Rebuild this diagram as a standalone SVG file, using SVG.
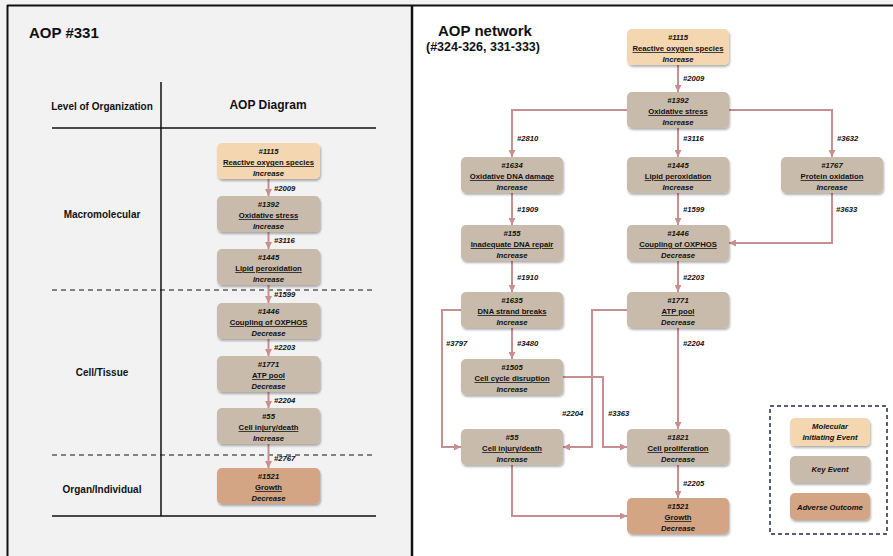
<svg xmlns="http://www.w3.org/2000/svg" width="893" height="556" viewBox="0 0 893 556">
<defs>
<style>
text{font-family:"Liberation Sans",Arial,sans-serif;font-weight:bold;fill:#111}
.n text{font-size:7.7px;text-anchor:middle}
.i{font-style:italic}
.u{text-decoration:underline}
.mie{fill:#f4d6b0}
.ke{fill:#c8bbab}
.ao{fill:#d3a585}
.c path{fill:none;stroke:#c98e90;stroke-width:2;marker-end:url(#ah)}
.lbl text{font-size:7.7px;font-style:italic}
.lvl{font-size:10px;text-anchor:middle}
.frame{stroke:#111;fill:none}
</style>
<marker id="ah" viewBox="0 0 10 10" refX="10" refY="5" markerWidth="3.5" markerHeight="3.5" orient="auto" markerUnits="strokeWidth"><path d="M0,0 L10,5 L0,10 z" fill="#c98e90"/></marker>
<filter id="sh" x="-10%" y="-20%" width="125%" height="150%"><feDropShadow dx="1" dy="2" stdDeviation="1.2" flood-color="#000" flood-opacity="0.3"/></filter>
</defs>
<rect x="0" y="0" width="893" height="556" fill="#f2f2f2"/>
<rect x="413" y="6" width="480" height="550" fill="#ffffff"/>
<g class="frame">
<line x1="7" y1="5.5" x2="893" y2="5.5" stroke-width="2"/>
<line x1="7.5" y1="5" x2="7.5" y2="556" stroke-width="2"/>
<line x1="412" y1="5" x2="412" y2="556" stroke-width="2.5"/>
<line x1="161" y1="82" x2="161" y2="516" stroke-width="1.5"/>
<line x1="52" y1="128" x2="376" y2="128" stroke-width="1.5"/>
<line x1="52" y1="516" x2="376" y2="516" stroke-width="1.5"/>
<line x1="52" y1="290" x2="376" y2="290" stroke-width="1.2" stroke-dasharray="5 4"/>
<line x1="52" y1="455" x2="376" y2="455" stroke-width="1.2" stroke-dasharray="5 4"/>
</g>
<text x="29" y="38" font-size="15">AOP #331</text>
<text x="102" y="110" class="lvl">Level of Organization</text>
<text x="268" y="109" font-size="12" text-anchor="middle">AOP Diagram</text>
<text x="102" y="218" class="lvl">Macromolecular</text>
<text x="102" y="376" class="lvl">Cell/Tissue</text>
<text x="102" y="493" class="lvl">Organ/Individual</text>
<text x="438" y="36" font-size="15">AOP network</text>
<text x="426" y="51" font-size="12.5">(#324-326, 331-333)</text>

<g class="c" id="left-connectors">
<path d="M268.5,179 V196"/>
<path d="M268.5,232 V249"/>
<path d="M268.5,284 V303"/>
<path d="M268.5,339 V356"/>
<path d="M268.5,392 V408"/>
<path d="M268.5,444 V468"/>
</g>
<g class="lbl">
<text x="274" y="191">#2009</text>
<text x="274" y="243">#3116</text>
<text x="274" y="297">#1599</text>
<text x="274" y="350">#2203</text>
<text x="274" y="403">#2204</text>
<text x="274" y="461">#2767</text>
</g>

<g class="n" id="L1115"><rect x="217" y="143" width="103" height="36" rx="5" class="mie" filter="url(#sh)"/><text x="268.5" y="154" class="i">#1115</text><text x="268.5" y="165" class="u">Reactive oxygen species</text><text x="268.5" y="175.5" class="i">Increase</text></g>
<g class="n" id="L1392"><rect x="217" y="196" width="103" height="36" rx="5" class="ke" filter="url(#sh)"/><text x="268.5" y="207" class="i">#1392</text><text x="268.5" y="218" class="u">Oxidative stress</text><text x="268.5" y="228.5" class="i">Increase</text></g>
<g class="n" id="L1445"><rect x="217" y="249" width="103" height="36" rx="5" class="ke" filter="url(#sh)"/><text x="268.5" y="260" class="i">#1445</text><text x="268.5" y="271" class="u">Lipid peroxidation</text><text x="268.5" y="281.5" class="i">Increase</text></g>
<g class="n" id="L1446"><rect x="217" y="303" width="103" height="36" rx="5" class="ke" filter="url(#sh)"/><text x="268.5" y="314" class="i">#1446</text><text x="268.5" y="325" class="u">Coupling of OXPHOS</text><text x="268.5" y="335.5" class="i">Decrease</text></g>
<g class="n" id="L1771"><rect x="217" y="356" width="103" height="36" rx="5" class="ke" filter="url(#sh)"/><text x="268.5" y="367" class="i">#1771</text><text x="268.5" y="378" class="u">ATP pool</text><text x="268.5" y="388.5" class="i">Decrease</text></g>
<g class="n" id="L55"><rect x="217" y="408" width="103" height="36" rx="5" class="ke" filter="url(#sh)"/><text x="268.5" y="419" class="i">#55</text><text x="268.5" y="430" class="u">Cell injury/death</text><text x="268.5" y="440.5" class="i">Increase</text></g>
<g class="n" id="L1521"><rect x="217" y="468" width="103" height="36" rx="5" class="ao" filter="url(#sh)"/><text x="268.5" y="479" class="i">#1521</text><text x="268.5" y="490" class="u">Growth</text><text x="268.5" y="500.5" class="i">Decrease</text></g>

<g class="c" id="right-connectors">
<path d="M678,65 V92"/>
<path d="M627,110 H512 V157"/>
<path d="M678,128 V157"/>
<path d="M729,110 H832 V157"/>
<path d="M512,193 V225"/>
<path d="M678,193 V225"/>
<path d="M832,193 V243 H729"/>
<path d="M512,261 V292"/>
<path d="M678,261 V292"/>
<path d="M512,328 V359"/>
<path d="M461,310 H442 V447 H461"/>
<path d="M627,310 H592 V447 H563"/>
<path d="M563,377 H603 V447 H627"/>
<path d="M678,328 V429"/>
<path d="M678,465 V498"/>
<path d="M512,465 V516 H627"/>
</g>
<g class="lbl">
<text x="683" y="81">#2009</text>
<text x="517" y="141">#2810</text>
<text x="683" y="141">#3116</text>
<text x="837" y="141">#3632</text>
<text x="517" y="212">#1909</text>
<text x="683" y="212">#1599</text>
<text x="836" y="212">#3633</text>
<text x="517" y="280">#1910</text>
<text x="683" y="280">#2203</text>
<text x="446" y="346">#3797</text>
<text x="517" y="346">#3480</text>
<text x="683" y="346">#2204</text>
<text x="562" y="416">#2204</text>
<text x="608" y="416">#3363</text>
<text x="683" y="486">#2205</text>
</g>

<g class="n" id="R1115"><rect x="627" y="29" width="102" height="36" rx="5" class="mie" filter="url(#sh)"/><text x="678" y="40" class="i">#1115</text><text x="678" y="51" class="u">Reactive oxygen species</text><text x="678" y="61.5" class="i">Increase</text></g>
<g class="n" id="R1392"><rect x="627" y="92" width="102" height="36" rx="5" class="ke" filter="url(#sh)"/><text x="678" y="103" class="i">#1392</text><text x="678" y="114" class="u">Oxidative stress</text><text x="678" y="124.5" class="i">Increase</text></g>
<g class="n" id="R1634"><rect x="461" y="157" width="102" height="36" rx="5" class="ke" filter="url(#sh)"/><text x="512" y="168" class="i">#1634</text><text x="512" y="179" class="u">Oxidative DNA damage</text><text x="512" y="189.5" class="i">Increase</text></g>
<g class="n" id="R1445"><rect x="627" y="157" width="102" height="36" rx="5" class="ke" filter="url(#sh)"/><text x="678" y="168" class="i">#1445</text><text x="678" y="179" class="u">Lipid peroxidation</text><text x="678" y="189.5" class="i">Increase</text></g>
<g class="n" id="R1767"><rect x="781" y="157" width="102" height="36" rx="5" class="ke" filter="url(#sh)"/><text x="832" y="168" class="i">#1767</text><text x="832" y="179" class="u">Protein oxidation</text><text x="832" y="189.5" class="i">Increase</text></g>
<g class="n" id="R155"><rect x="461" y="225" width="102" height="36" rx="5" class="ke" filter="url(#sh)"/><text x="512" y="236" class="i">#155</text><text x="512" y="247" class="u">Inadequate DNA repair</text><text x="512" y="257.5" class="i">Increase</text></g>
<g class="n" id="R1446"><rect x="627" y="225" width="102" height="36" rx="5" class="ke" filter="url(#sh)"/><text x="678" y="236" class="i">#1446</text><text x="678" y="247" class="u">Coupling of OXPHOS</text><text x="678" y="257.5" class="i">Decrease</text></g>
<g class="n" id="R1635"><rect x="461" y="292" width="102" height="36" rx="5" class="ke" filter="url(#sh)"/><text x="512" y="303" class="i">#1635</text><text x="512" y="314" class="u">DNA strand breaks</text><text x="512" y="324.5" class="i">Increase</text></g>
<g class="n" id="R1771"><rect x="627" y="292" width="102" height="36" rx="5" class="ke" filter="url(#sh)"/><text x="678" y="303" class="i">#1771</text><text x="678" y="314" class="u">ATP pool</text><text x="678" y="324.5" class="i">Decrease</text></g>
<g class="n" id="R1505"><rect x="461" y="359" width="102" height="36" rx="5" class="ke" filter="url(#sh)"/><text x="512" y="370" class="i">#1505</text><text x="512" y="381" class="u">Cell cycle disruption</text><text x="512" y="391.5" class="i">Increase</text></g>
<g class="n" id="R55"><rect x="461" y="429" width="102" height="36" rx="5" class="ke" filter="url(#sh)"/><text x="512" y="440" class="i">#55</text><text x="512" y="451" class="u">Cell injury/death</text><text x="512" y="461.5" class="i">Increase</text></g>
<g class="n" id="R1821"><rect x="627" y="429" width="102" height="36" rx="5" class="ke" filter="url(#sh)"/><text x="678" y="440" class="i">#1821</text><text x="678" y="451" class="u">Cell proliferation</text><text x="678" y="461.5" class="i">Decrease</text></g>
<g class="n" id="R1521"><rect x="627" y="498" width="102" height="36" rx="5" class="ao" filter="url(#sh)"/><text x="678" y="509" class="i">#1521</text><text x="678" y="520" class="u">Growth</text><text x="678" y="530.5" class="i">Decrease</text></g>

<g class="n" id="legend">
<rect x="770" y="406" width="117" height="128" fill="none" stroke="#1f2a4f" stroke-width="1.5" stroke-dasharray="4 3"/>
<rect x="790" y="418" width="80" height="28" rx="5" class="mie" filter="url(#sh)"/>
<text x="830" y="429" class="i">Molecular</text><text x="830" y="440" class="i">Initiating Event</text>
<rect x="790" y="456" width="80" height="27" rx="5" class="ke" filter="url(#sh)"/>
<text x="830" y="472" class="i">Key Event</text>
<rect x="790" y="493" width="80" height="27" rx="5" class="ao" filter="url(#sh)"/>
<text x="830" y="510" class="i">Adverse Outcome</text>
</g>
</svg>
